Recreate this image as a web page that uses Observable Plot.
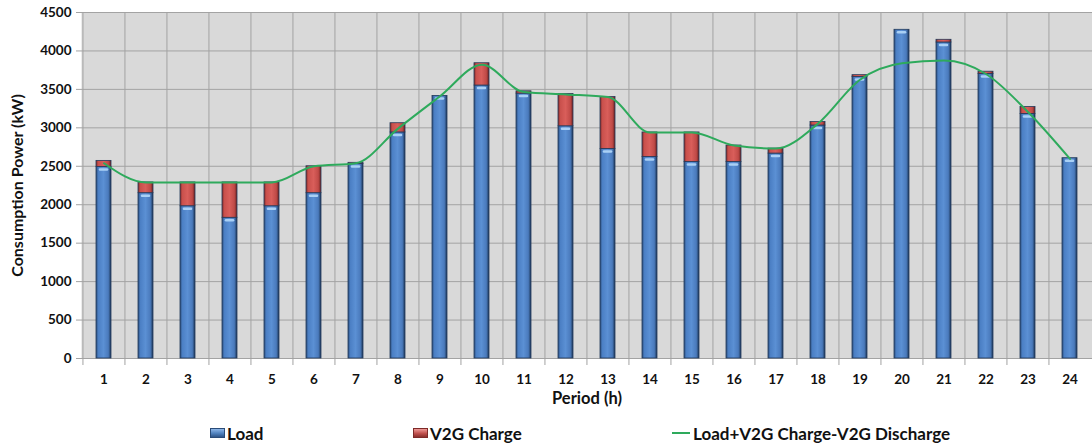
<!DOCTYPE html>
<html>
<head>
<meta charset="utf-8">
<script src="https://cdn.jsdelivr.net/npm/d3@7"></script>
<script src="https://cdn.jsdelivr.net/npm/@observablehq/plot@0.6"></script>
<style>
  html, body { margin: 0; padding: 0; background: #fff; }
  body { width: 1092px; height: 448px; overflow: hidden; font-family: Lato, "Open Sans", sans-serif; }
  #chart svg { display: block; }
  .legend { position: relative; width: 1092px; height: 38px; font-family: Lato, sans-serif; font-weight: 700; font-size: 17px; color: #111; }
  .legend .item { position: absolute; top: 12px; display: flex; align-items: center; height: 22px; }
  .legend .sw { width: 15px; height: 10px; margin-right: 2px; box-sizing: border-box; }
  .legend .ln { width: 18px; height: 2px; margin-right: 3px; background: #2eaa5c; }
</style>
</head>
<body>
<div id="chart"></div>
<div class="legend" id="legend"></div>
<script>
// Hourly periods (tick labels)
const periods = d3.range(1, 25);
// Base load per hour (kW)
const load = [2490, 2150, 1980, 1830, 1980, 2150, 2530, 2940, 3415, 3550, 3445, 3020,
              2725, 2620, 2555, 2555, 2665, 3030, 3660, 4275, 4110, 3700, 3180, 2605];
// Additional V2G charging per hour (kW)
const charge = [80, 140, 310, 460, 310, 350, 15, 120, 0, 290, 30, 420,
                675, 320, 385, 215, 65, 45, 25, 0, 35, 30, 90, 0];
// Net consumption: Load + V2G Charge - V2G Discharge (kW)
const net = [2540, 2290, 2290, 2290, 2290, 2500, 2540, 2990, 3410, 3820, 3465, 3435,
             3400, 2940, 2940, 2770, 2730, 3055, 3625, 3840, 3875, 3700, 3205, 2595];
const yTicks = d3.range(0, 4501, 500);
const seriesNames = ["Load", "V2G Charge", "Load+V2G Charge-V2G Discharge"];

const rows = periods.flatMap((p, i) => [
  {period: p, series: seriesNames[0], value: load[i]},
  {period: p, series: seriesNames[1], value: charge[i]}
]);
const netRows = periods.map((p, i) => ({period: p, value: net[i]}));

const W = 1092, H = 410, ML = 81, MR = 0, MT = 12, MB = 52;
const step = (W - ML - MR) / periods.length;

// Cylinder-like shading for the bars
function gradientDefs() {
  const ns = "http://www.w3.org/2000/svg";
  const defs = document.createElementNS(ns, "defs");
  const make = (id, stops) => {
    const g = document.createElementNS(ns, "linearGradient");
    g.setAttribute("id", id);
    g.setAttribute("x1", "0"); g.setAttribute("x2", "1");
    g.setAttribute("y1", "0"); g.setAttribute("y2", "0");
    for (const [o, c] of stops) {
      const s = document.createElementNS(ns, "stop");
      s.setAttribute("offset", o); s.setAttribute("stop-color", c);
      g.appendChild(s);
    }
    defs.appendChild(g);
  };
  make("gLoad", [["0", "#2a4c78"], ["0.15", "#4b7fc4"], ["0.5", "#5b90d4"], ["0.82", "#4a7abc"], ["1", "#1c3658"]]);
  make("gCharge", [["0", "#7e2a28"], ["0.15", "#c9504c"], ["0.5", "#d95e5a"], ["0.82", "#c04a47"], ["1", "#6e2220"]]);
  return defs;
}

const plot = Plot.plot({
  width: W, height: H,
  marginLeft: ML, marginRight: MR, marginTop: MT, marginBottom: MB,
  style: {fontFamily: "Lato, sans-serif", fontWeight: 700, color: "#111", background: "#fff"},
  x: {type: "band", domain: periods, paddingInner: 0.64, paddingOuter: 0.32, label: null},
  y: {domain: [0, 4500], label: null},
  color: {domain: seriesNames.slice(0, 2), range: ["url(#gLoad)", "url(#gCharge)"]},
  marks: [
    gradientDefs,
    Plot.frame({fill: "#d9d9d9", stroke: null}),
    Plot.ruleY(yTicks, {stroke: "#a3a3a3", strokeWidth: 1}),
    Plot.ruleX(periods, {x: d => d, dx: -step / 2, stroke: "#a3a3a3", strokeWidth: 1, insetBottom: -7}),
    Plot.axisY(yTicks, {tickSize: 5, tickPadding: 5, fontSize: 13.5, stroke: "#a3a3a3", tickFormat: d => String(d)}),
    Plot.axisX(periods, {tickSize: 0, tickPadding: 16, fontSize: 13.5}),
    Plot.barY(rows, Plot.stackY({x: "period", y: "value", fill: "series", order: seriesNames, stroke: "#22395a", strokeWidth: 0.8})),
    // light cap highlight at the top of each load bar
    Plot.tickY(periods.map((p, i) => ({period: p, value: load[i]})),
      {x: "period", y: "value", stroke: "#a9d0f5", strokeWidth: 2.5, inset: 4, dy: 2.5, strokeLinecap: "round"}),
    Plot.line(netRows, {x: "period", y: "value", stroke: "#2eaa5c", strokeWidth: 2, curve: "monotone-x"}),
    Plot.text(["Period (h)"], {frameAnchor: "bottom", lineAnchor: "middle", textAnchor: "middle", dy: 40, fontSize: 16.5, fontWeight: 700}),
    Plot.text(["Consumption Power (kW)"], {frameAnchor: "left", lineAnchor: "middle", textAnchor: "middle", rotate: -90, dx: -64, fontSize: 16, fontWeight: 700})
  ]
});
document.getElementById("chart").appendChild(plot);

// Legend below the chart
const legend = document.getElementById("legend");
const items = [
  {name: seriesNames[0], left: 210, kind: "sw", bg: "linear-gradient(#8db6e8, #4f81bd 55%, #2f5588)", border: "#2a4c78"},
  {name: seriesNames[1], left: 413, kind: "sw", bg: "linear-gradient(#ee9a97, #c0504d 55%, #8a302d)", border: "#7e2a28"},
  {name: seriesNames[2], left: 672, kind: "ln"}
];
for (const it of items) {
  const d = document.createElement("div");
  d.className = "item";
  d.style.left = it.left + "px";
  const m = document.createElement("span");
  m.className = it.kind;
  if (it.kind === "sw") { m.style.background = it.bg; m.style.border = `1px solid ${it.border}`; }
  d.appendChild(m);
  const t = document.createElement("span");
  t.textContent = it.name;
  d.appendChild(t);
  legend.appendChild(d);
}
</script>
</body>
</html>
